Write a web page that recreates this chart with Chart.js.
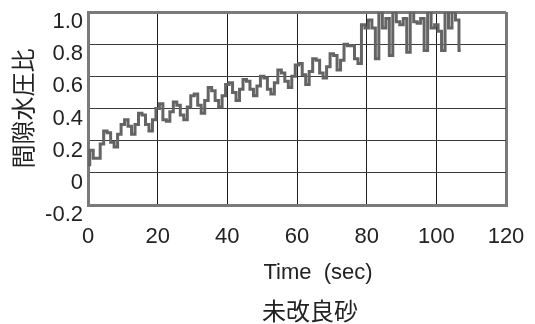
<!DOCTYPE html>
<html>
<head>
<meta charset="utf-8">
<script src="https://cdn.jsdelivr.net/npm/chart.js@4/dist/chart.umd.min.js"></script>
<style>
html,body{margin:0;padding:0;background:#fff;}
#wrap{width:535px;height:324px;position:relative;}
</style>
</head>
<body>
<div id="wrap"><canvas id="c" width="535" height="324"></canvas></div>
<script>
// time (sec)
const times = [0,1,2,3,4,5,6,7,8,9,10,11,12,13,14,15,16,17,18,19,20,21,22,23,24,25,26,27,28,29,30,31,32,33,34,35,36,37,38,39,40,41,42,43,44,45,46,47,48,49,50,51,52,53,54,55,56,57,58,59,60,61,62,63,64,65,66,67,68,69,70,71,72,73,74,75,76,77,78,79,80,81,82,83,84,85,86,87,88,89,90,91,92,93,94,95,96,97,98,99,100,101,102,103,104,105,106,107];
// pore water pressure ratio (間隙水圧比)
const ratio = [0.05,0.14,0.09,0.09,0.18,0.26,0.25,0.19,0.16,0.24,0.30,0.33,0.29,0.24,0.30,0.37,0.36,0.30,0.26,0.33,0.40,0.43,0.33,0.32,0.38,0.44,0.42,0.36,0.33,0.41,0.48,0.49,0.42,0.37,0.45,0.53,0.51,0.45,0.41,0.48,0.55,0.56,0.50,0.45,0.52,0.58,0.57,0.52,0.48,0.54,0.60,0.59,0.52,0.49,0.56,0.64,0.62,0.57,0.53,0.60,0.67,0.68,0.61,0.55,0.63,0.71,0.70,0.62,0.59,0.66,0.74,0.73,0.64,0.70,0.80,0.79,0.79,0.71,0.68,0.92,0.90,0.95,0.90,0.71,1.02,0.90,0.96,0.73,1.02,0.94,0.92,0.96,0.75,1.02,0.94,0.93,0.96,0.76,1.02,0.90,0.92,0.88,0.76,1.02,0.90,1.00,0.95,0.76];
const xTicks = [0,20,40,60,80,100,120];
const yTicks = [-0.2,0,0.2,0.4,0.6,0.8,1.0];
const yTitle = '間隙水圧比';
const xTitle = 'Time  (sec)';
const caption = '未改良砂';

const textPlugin = {
  id: 'texts',
  afterDraw(chart) {
    const ctx = chart.ctx;
    ctx.save();
    ctx.fillStyle = '#222';
    ctx.textAlign = 'center';
    ctx.textBaseline = 'middle';
    ctx.font = '22px "Liberation Sans", Arial, sans-serif';
    ctx.fillText(xTitle, 318, 273);
    ctx.font = '24px "Noto Sans CJK JP", sans-serif';
    ctx.fillText(caption, 310, 311);
    ctx.restore();
  }
};

const n = xTicks.length;
new Chart(document.getElementById('c'), {
  type: 'line',
  data: {
    datasets: [{
      data: times.map((t, i) => ({x: t, y: ratio[i]})),
      borderColor: '#646464',
      borderWidth: 3,
      pointRadius: 0,
      stepped: 'middle',
      fill: false,
      clip: 0
    }]
  },
  options: {
    responsive: false,
    animation: false,
    events: [],
    layout: {padding: {top: 12, right: 29, bottom: 0, left: 0}},
    plugins: {legend: {display: false}, tooltip: {enabled: false}, title: {display: false}},
    scales: {
      x: {
        type: 'linear', min: 0, max: 120,
        afterBuildTicks(s) { s.ticks = xTicks.map(v => ({value: v})); },
        afterFit(s) { s.height = 119; s.paddingLeft = 0; s.paddingRight = 0; },
        border: {display: true, color: '#7a7a7a', width: 3},
        grid: {
          drawTicks: false,
          color: c => (c.index === 0 || c.index === n - 1) ? '#7a7a7a' : '#1e1e1e',
          lineWidth: c => (c.index === 0 || c.index === n - 1) ? 3 : 1
        },
        ticks: {
          padding: 19, color: '#222', maxRotation: 0, autoSkip: false,
          font: {family: '"Liberation Sans", Arial, sans-serif', size: 22},
          callback: v => String(v)
        }
      },
      y: {
        type: 'linear', min: -0.2, max: 1.0,
        afterBuildTicks(s) { s.ticks = yTicks.map(v => ({value: v})); },
        afterFit(s) { s.width = 88; s.paddingTop = 0; s.paddingBottom = 0; },
        border: {display: true, color: '#7a7a7a', width: 3},
        grid: {
          drawTicks: false,
          color: c => (c.index === 0 || c.index === yTicks.length - 1) ? '#7a7a7a' : '#3a3a3a',
          lineWidth: c => (c.index === 0 || c.index === yTicks.length - 1) ? 3 : 1
        },
        title: {
          display: true, text: yTitle, color: '#222',
          font: {family: '"Noto Sans CJK JP", sans-serif', size: 24, lineHeight: 1},
          padding: {top: 11, bottom: 0}
        },
        ticks: {
          padding: 5, color: '#222', labelOffset: 10, autoSkip: false,
          font: {family: '"Liberation Sans", Arial, sans-serif', size: 22},
          callback: v => (Math.abs(v) < 1e-9 ? '0' : v.toFixed(1))
        }
      }
    }
  },
  plugins: [textPlugin]
});
</script>
</body>
</html>
